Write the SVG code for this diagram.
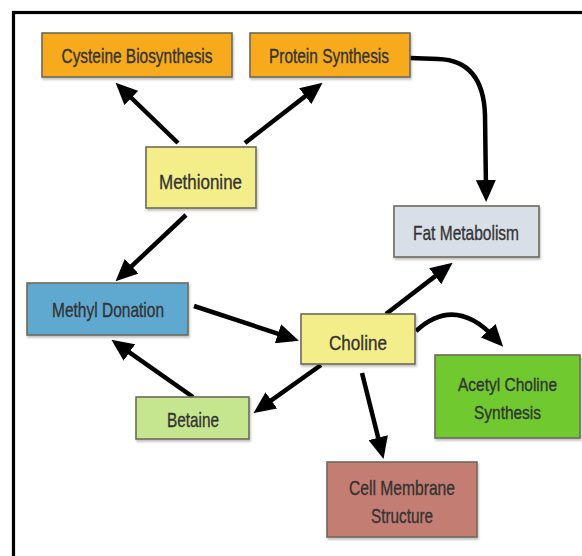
<svg xmlns="http://www.w3.org/2000/svg" width="582" height="556" viewBox="0 0 582 556">
<defs>
<marker id="ah" markerUnits="userSpaceOnUse" markerWidth="22" markerHeight="20" refX="10" refY="10" orient="auto">
<path d="M0,0 L22,10 L0,20 Z" fill="#000"/>
</marker>
<filter id="sh" x="-10%" y="-10%" width="130%" height="140%">
<feDropShadow dx="1" dy="2" stdDeviation="1.2" flood-color="#000" flood-opacity="0.25"/>
</filter>
</defs>
<style>
.box{stroke:#6e6a58;stroke-width:1.6;filter:url(#sh)}
.t{font-family:"Liberation Sans",Arial,sans-serif;font-size:21px;fill:#333;stroke:#333;stroke-width:0.35;text-anchor:middle}
.s{font-size:19px}
.c{fill:none;stroke:#000;stroke-width:4.5;marker-end:url(#ah)}
</style>
<rect width="582" height="556" fill="#fff"/>
<rect x="13.5" y="12.5" width="620" height="600" fill="none" stroke="#000" stroke-width="3.2"/>
<g id="connectors">
<path class="c" d="M178,143 L124.2,91"/>
<path class="c" d="M245,143 L313.1,90.1"/>
<path class="c" d="M186,215 L124.3,273.1"/>
<path class="c" d="M194,306 L287.5,336.9"/>
<path class="c" d="M193,397 L121.2,346.7"/>
<path class="c" d="M321,365 L263.2,406.2"/>
<path class="c" d="M386,314 L443.1,270.1"/>
<path class="c" d="M362,373 L380.6,447.3"/>
<path class="c" d="M416,331 Q455,295 495,338"/>
<path class="c" d="M410,58 L438,59 C472,60 484,84 485,115 L486,190"/>
</g>
<g id="cysteine"><rect class="box" x="42" y="33" width="190" height="44" fill="#F6AA1C"/><text class="t" x="137" y="63" textLength="151" lengthAdjust="spacingAndGlyphs">Cysteine Biosynthesis</text></g>
<g id="protein"><rect class="box" x="250" y="33" width="160" height="44" fill="#F6AA1C"/><text class="t" x="329" y="63" textLength="120" lengthAdjust="spacingAndGlyphs">Protein Synthesis</text></g>
<g id="methionine"><rect class="box" x="146" y="147" width="110" height="61" fill="#F4EE8A"/><text class="t" x="200.5" y="189" textLength="83" lengthAdjust="spacingAndGlyphs">Methionine</text></g>
<g id="fat"><rect class="box" x="394" y="206" width="145" height="51" fill="#D8DFE7"/><text class="t" x="466" y="240" textLength="106" lengthAdjust="spacingAndGlyphs">Fat Metabolism</text></g>
<g id="methyl"><rect class="box" x="27" y="283" width="161" height="52" fill="#5EA9D1"/><text class="t" x="108" y="317" textLength="112" lengthAdjust="spacingAndGlyphs">Methyl Donation</text></g>
<g id="choline"><rect class="box" x="301" y="314" width="114" height="50" fill="#F4EE8A"/><text class="t" x="358" y="350" textLength="58" lengthAdjust="spacingAndGlyphs">Choline</text></g>
<g id="acetyl"><rect class="box" x="435" y="355" width="145" height="83" fill="#6FC92F"/><text class="t s" x="507.5" y="391" textLength="99" lengthAdjust="spacingAndGlyphs">Acetyl Choline</text><text class="t s" x="507.5" y="419" textLength="67" lengthAdjust="spacingAndGlyphs">Synthesis</text></g>
<g id="betaine"><rect class="box" x="136" y="397" width="113" height="42" fill="#C6E58F"/><text class="t" x="193" y="427" textLength="52" lengthAdjust="spacingAndGlyphs">Betaine</text></g>
<g id="cell"><rect class="box" x="327" y="462" width="150" height="75" fill="#C47D72"/><text class="t" x="402" y="495" textLength="106" lengthAdjust="spacingAndGlyphs">Cell Membrane</text><text class="t" x="402" y="523" textLength="62" lengthAdjust="spacingAndGlyphs">Structure</text></g>
</svg>
